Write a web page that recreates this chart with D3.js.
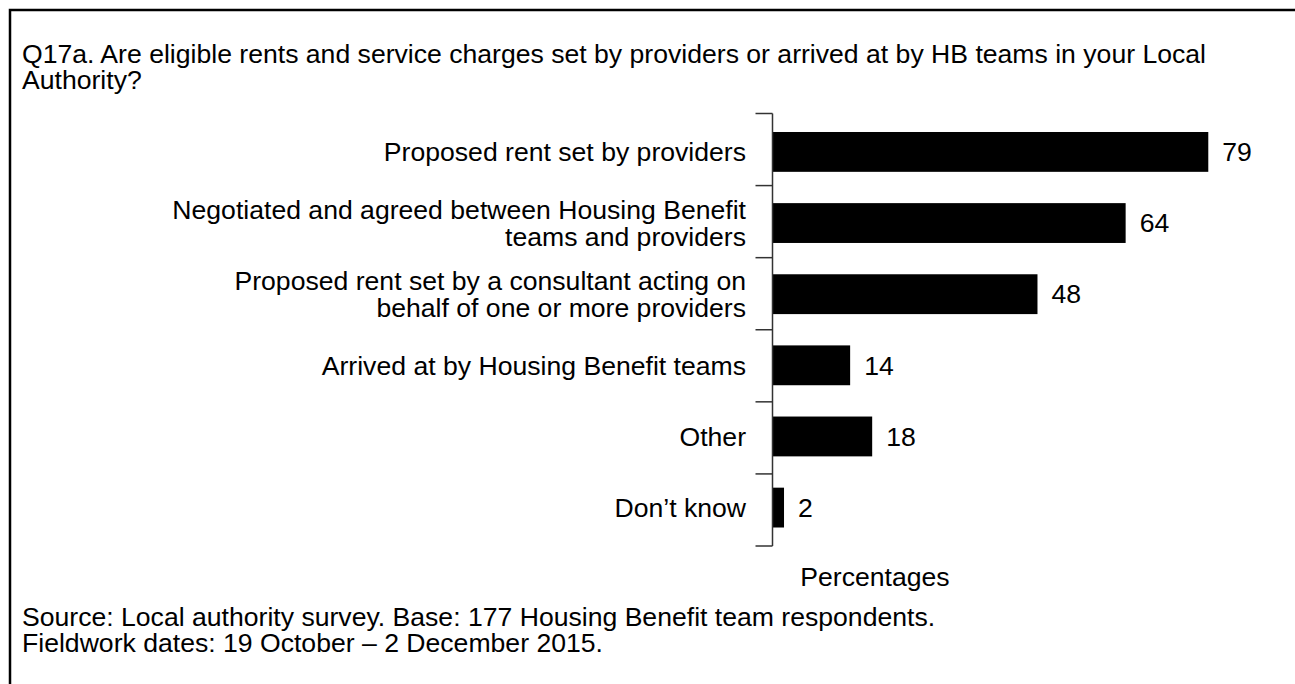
<!DOCTYPE html>
<html>
<head>
<meta charset="utf-8">
<script src="https://cdn.jsdelivr.net/npm/d3@7"></script>
<style>
  html, body { margin: 0; padding: 0; background: #fff; }
  svg { display: block; }
  text { font-family: "Liberation Sans", Arial, Helvetica, sans-serif; fill: #000; }
</style>
</head>
<body>
<svg id="chart" width="1295" height="684"></svg>
<script>
// Survey responses (percent of HB teams)
const categories = [
  "Proposed rent set by providers",
  "Negotiated and agreed between Housing Benefit|teams and providers",
  "Proposed rent set by a consultant acting on|behalf of one or more providers",
  "Arrived at by Housing Benefit teams",
  "Other",
  "Don\u2019t know"
];
const values = [79, 64, 48, 14, 18, 2];

const titleLines = [
  "Q17a. Are eligible rents and service charges set by providers or arrived at by HB teams in your Local",
  "Authority?"
];
const axisTitle = "Percentages";
const footLines = [
  "Source: Local authority survey. Base: 177 Housing Benefit team respondents.",
  "Fieldwork dates: 19 October \u2013 2 December 2015."
];

const FS = 26.6;
const svg = d3.select("#chart");

// frame (left and top edges)
svg.append("path")
  .attr("d", "M10,684V10H1295")
  .attr("fill", "none")
  .attr("stroke", "#000")
  .attr("stroke-width", 2.5);

// title
svg.append("g").selectAll("text")
  .data(titleLines).join("text")
  .attr("x", 22)
  .attr("y", (d, i) => 63 + i * 26)
  .style("font-size", FS + "px")
  .text(d => d);

const axisX = 772.5, plotTop = 113.5, plotBottom = 546;

const y = d3.scaleBand()
  .domain(categories)
  .range([plotTop, plotBottom])
  .paddingInner(0.44)
  .paddingOuter(0.26);

const sep = d3.scaleLinear().domain([0, categories.length]).range([plotTop, plotBottom]);

const x = d3.scaleLinear().domain([0, 100]).range([axisX + 0.5, axisX + 0.5 + 551]);

// bars
svg.append("g").selectAll("rect")
  .data(categories).join("rect")
  .attr("x", x(0))
  .attr("y", d => y(d))
  .attr("width", (d, i) => x(values[i]) - x(0))
  .attr("height", y.bandwidth())
  .attr("fill", "#000");

// value labels
svg.append("g").selectAll("text")
  .data(categories).join("text")
  .attr("x", (d, i) => x(values[i]) + 14)
  .attr("y", d => y(d) + y.bandwidth() / 2)
  .attr("dy", "0.35em")
  .style("font-size", FS + "px")
  .text((d, i) => values[i]);

// category axis with separator ticks
const axis = svg.append("g").attr("stroke", "#333").attr("stroke-width", 1.5);
axis.append("line").attr("x1", axisX).attr("x2", axisX).attr("y1", plotTop).attr("y2", plotBottom);
axis.selectAll("line.tick")
  .data(d3.range(categories.length + 1)).join("line")
  .attr("class", "tick")
  .attr("x1", axisX - 17).attr("x2", axisX)
  .attr("y1", d => sep(d)).attr("y2", d => sep(d));

// category labels (| marks a line break)
const lh = 27;
svg.append("g").selectAll("text")
  .data(categories).join("text")
  .attr("text-anchor", "end")
  .style("font-size", FS + "px")
  .each(function (d) {
    const lines = d.split("|");
    const cy = y(d) + y.bandwidth() / 2;
    const t = d3.select(this);
    lines.forEach((ln, i) => {
      t.append("tspan")
        .attr("x", 746)
        .attr("y", cy + (i - (lines.length - 1) / 2) * lh)
        .attr("dy", "0.35em")
        .text(ln);
    });
  });

// axis title
svg.append("text")
  .attr("x", 875).attr("y", 586)
  .attr("text-anchor", "middle")
  .style("font-size", FS + "px")
  .text(axisTitle);

// source notes
svg.append("g").selectAll("text")
  .data(footLines).join("text")
  .attr("x", 22)
  .attr("y", (d, i) => 626 + i * 26)
  .style("font-size", FS + "px")
  .text(d => d);
</script>
</body>
</html>
